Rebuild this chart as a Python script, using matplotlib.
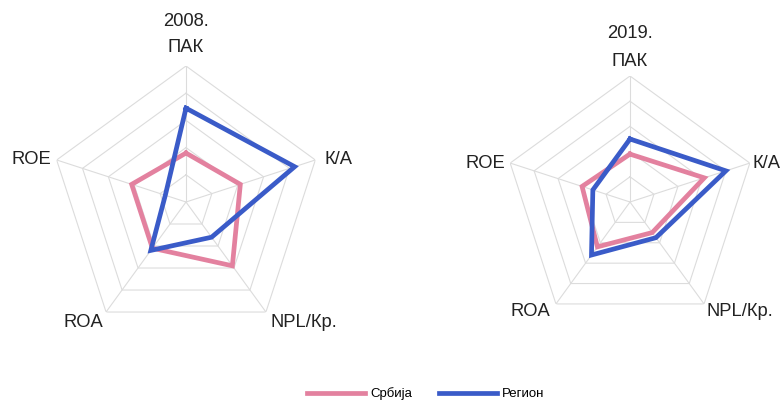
import numpy as np
import matplotlib
matplotlib.use("Agg")
import matplotlib.pyplot as plt

plt.rcParams['font.family'] = ['Liberation Sans', 'DejaVu Sans']

# Indicators (clockwise from the top) and values on a 0-5 scale
categories = ["ПАК", "К/А", "NPL/Кр.", "ROA", "ROE"]
years = ["2008.", "2019."]
serbia_2008 = [1.8, 2.1, 2.9, 2.1, 2.1]
region_2008 = [3.45, 4.2, 1.6, 2.2, 0.8]
serbia_2019 = [1.9, 3.1, 1.5, 2.2, 2.0]
region_2019 = [2.5, 4.0, 1.75, 2.6, 1.55]
series_names = ["Србија", "Регион"]
levels = [1, 2, 3, 4, 5]

PINK = "#E3819F"
BLUE = "#3A5BC8"
GRID = "#DCDCDC"

fig = plt.figure(figsize=(7.84, 4.05), dpi=100)

n = len(categories)
theta = np.arange(n) * 2 * np.pi / n
theta_closed = np.append(theta, theta[0])


def closed(vals):
    return np.append(vals, vals[0])


def radar(rect, title, serbia, region, offsets, title_dy, fs):
    ax = fig.add_axes(rect, projection="polar")
    ax.set_theta_zero_location("N")
    ax.set_theta_direction(-1)
    ax.set_ylim(0, 5)
    ax.grid(False)
    ax.spines["polar"].set_visible(False)
    ax.set_xticks([])
    ax.set_yticks([])
    ax.patch.set_alpha(0)

    # pentagon rings and spokes
    for lv in levels:
        ax.plot(theta_closed, [lv] * (n + 1), color=GRID, lw=0.8, zorder=1)
    for t in theta:
        ax.plot([t, t], [0, levels[-1]], color=GRID, lw=0.8, zorder=1)

    l1, = ax.plot(theta_closed, closed(serbia), color=PINK, lw=3.4,
                  solid_joinstyle="miter", zorder=3)
    l2, = ax.plot(theta_closed, closed(region), color=BLUE, lw=3.4,
                  solid_joinstyle="miter", zorder=4)

    for t, lab, (dx, dy, ha, va) in zip(theta, categories, offsets):
        ax.annotate(lab, xy=(t, 5), xytext=(dx, dy), textcoords="offset points",
                    ha=ha, va=va, fontsize=fs, color="#222222")
    ax.annotate(title, xy=(0, 5), xytext=(0, title_dy), textcoords="offset points",
                ha="center", va="center", fontsize=fs, color="#222222")
    return l1, l2


px = 0.72  # points per pixel at 100 dpi

left_offsets = [
    (0, 18 * px, "center", "center"),
    (9 * px, 0, "left", "center"),
    (5 * px, -10 * px, "left", "center"),
    (-3 * px, -10 * px, "right", "center"),
    (-5 * px, 0, "right", "center"),
]
right_offsets = [
    (0, 14 * px, "center", "center"),
    (3 * px, 0, "left", "center"),
    (2 * px, -8 * px, "left", "center"),
    (-6 * px, -8 * px, "right", "center"),
    (-5 * px, 0, "right", "center"),
]

l1, l2 = radar([50 / 784, 1 - 338 / 405, 272 / 784, 272 / 405], years[0],
               serbia_2008, region_2008, left_offsets, 44 * px, 13.2)
radar([504 / 784, 1 - 328 / 405, 252 / 784, 252 / 405], years[1],
      serbia_2019, region_2019, right_offsets, 43 * px, 13.2)

fig.legend([l1, l2], series_names, loc="center", bbox_to_anchor=(0.543, 1 - 394 / 405),
           ncol=2, frameon=False, fontsize=9.5, handlelength=4.4, handletextpad=0.4,
           columnspacing=2.0)

fig.savefig("out.png", dpi=100)
